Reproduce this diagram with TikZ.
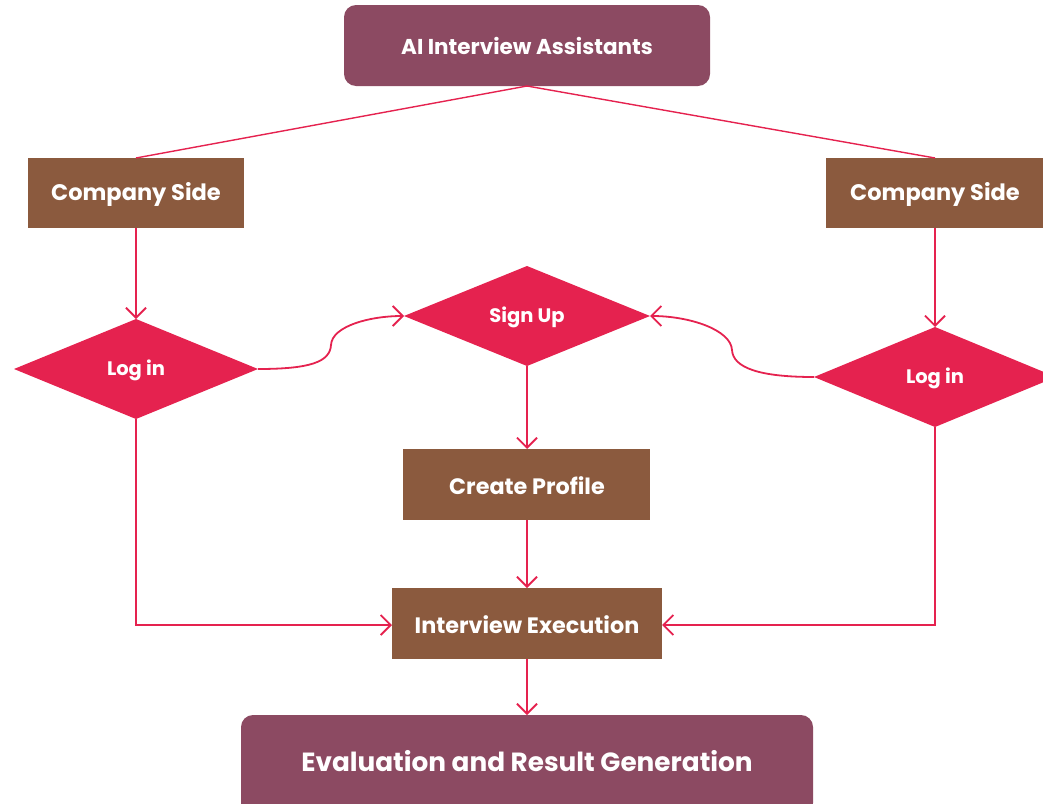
\documentclass[tikz,border=0pt]{standalone}
\usepackage{fontspec}
\setmainfont{Poppins}
\usetikzlibrary{arrows.meta,shapes.geometric}
\definecolor{plum}{HTML}{8C4A62}
\definecolor{brownbox}{HTML}{8B5A3E}
\definecolor{redc}{HTML}{E5224F}
\begin{document}
\begin{tikzpicture}[x=1pt,y=-1pt,
  plumbox/.style={fill=plum,rounded corners=12pt},
  brbox/.style={fill=brownbox},
  dia/.style={fill=redc},
  lbl/.style={text=white,font=\bfseries\fontsize{#1}{#1}\selectfont},
  conn/.style={draw=redc,line width=1.8pt},
  arr/.style={conn,-{Straight Barb[length=10pt,width=20pt,line width=1.8pt]}}]
\useasboundingbox (0,0) rectangle (1043,803);
\begin{scope}
\clip (0,0) rectangle (1043,803);
% boxes
\path[plumbox] (344,5) rectangle (710,86);
\node[lbl=21.5] (top) at (527,46) {AI Interview Assistants};
\coordinate (topb) at (527,86);
\path[brbox] (28,158) rectangle (244,228);
\node[lbl=22.5] (csl) at (136,194) {Company Side};
\coordinate (cslt) at (136,158); \coordinate (cslb) at (136,228);
\path[brbox] (826,158) rectangle (1043,228);
\node[lbl=22.5] (csr) at (935,194) {Company Side};
\coordinate (csrt) at (935,158); \coordinate (csrb) at (935,228);
% diamonds
\path[dia] (14,369) -- (136,319) -- (258,369) -- (136,419) -- cycle;
\node[lbl=19.5] (ll) at (136,370) {Log in};
\coordinate (llt) at (136,319); \coordinate (llr) at (258,369); \coordinate (llb) at (136,419);
\path[dia] (404,316) -- (527,266) -- (650,316) -- (527,366) -- cycle;
\node[lbl=19.5] (su) at (527,317) {Sign Up};
\coordinate (sul) at (404,316); \coordinate (sur) at (650,316); \coordinate (sub) at (527,366);
\path[dia] (814,377) -- (935,327) -- (1056,377) -- (935,427) -- cycle;
\node[lbl=19.5] (lr) at (935,378) {Log in};
\coordinate (lrt) at (935,327); \coordinate (lrl) at (814,377); \coordinate (lrb) at (935,427);
% middle boxes
\path[brbox] (403,449) rectangle (650,520);
\node[lbl=22.3] (cp) at (527,486) {Create Profile};
\coordinate (cpt) at (527,449); \coordinate (cpb) at (527,520);
\path[brbox] (392,588) rectangle (662,659);
\node[lbl=22.3] (ie) at (527,625) {Interview Execution};
\coordinate (iet) at (527,588); \coordinate (iel) at (392,625); \coordinate (ier) at (662,625); \coordinate (ieb) at (527,659);
\path[plumbox] (241,715) rectangle (813,815);
\node[lbl=26.3] (ev) at (527,761) {Evaluation and Result Generation};
\coordinate (evt) at (527,715);
% connectors
\draw[draw=redc,line width=1.4pt] (cslt) -- (topb) -- (csrt);
\draw[arr] (cslb) -- (llt);
\draw[arr] (csrb) -- (lrt);
\draw[arr] (llr) .. controls (310,369) and (330,362) .. (331,345) .. controls (332,326) and (370,316) .. (sul);
\draw[arr] (lrl) .. controls (760,377) and (733,368) .. (732,350) .. controls (731,330) and (690,316) .. (sur);
\draw[arr] (sub) -- (cpt);
\draw[arr] (cpb) -- (iet);
\draw[arr] (llb) -- (136,625) -- (iel);
\draw[arr] (lrb) -- (935,625) -- (ier);
\draw[arr] (ieb) -- (evt);
\end{scope}
\end{tikzpicture}
\end{document}
